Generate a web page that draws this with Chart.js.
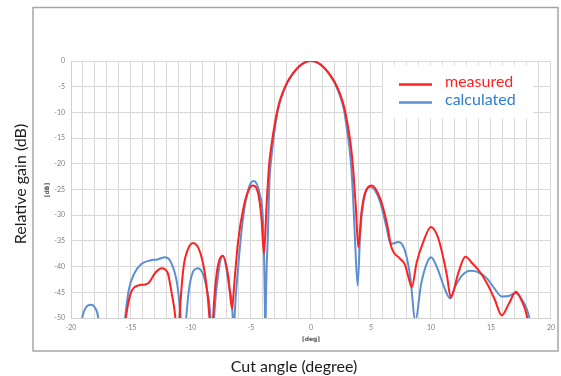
<!DOCTYPE html>
<html>
<head>
<meta charset="utf-8">
<script src="https://cdn.jsdelivr.net/npm/chart.js@4"></script>
<style>
  html, body { margin: 0; padding: 0; background: #fff; }
  #wrap { width: 561px; height: 376px; }
</style>
</head>
<body>
<div id="wrap"><canvas id="gainChart" width="561" height="376"></canvas></div>
<script>
// Valores (ângulo em graus, ganho em dB)
const measAngle = [-15.8, -15.43, -15.04, -14.44, -13.84, -13.54, -12.94, -12.44, -11.96, -11.6, -11.3, -11.08,
    -10.95, -10.64, -10.25, -9.8, -9.2, -8.76, -8.46, -8.3, -8.16, -7.86, -7.35, -6.88, -6.58, -6.37, -6.07,
    -5.62, -5.17, -4.87, -4.42, -4.13, -3.92, -3.68, -3.5, -3.3, -3.0, -2.7, -2.4, -2.0, -1.5, -1.0, -0.5, 0,
    0.5, 1.0, 1.5, 2.0, 2.45, 2.75, 3.05, 3.35, 3.55, 3.74, 3.95, 4.19, 4.48, 5.05, 5.74, 6.34, 6.7, 7.4, 7.83,
    8.13, 8.4, 8.8, 9.3, 10.0, 10.6, 11.0, 11.35, 11.65, 12.26, 12.86, 13.5, 14.1, 14.7, 15.3, 15.9, 16.5,
    17.08, 17.55, 18.03, 18.3];
const measGain = [-58, -50, -45.3, -43.7, -43.5, -43.2, -41.1, -40.3, -41.1, -45.3, -50, -58,
    -50, -40.5, -36.6, -35.4, -37.5, -42.7, -50, -58, -50, -41.4, -37.9, -42.1, -48.2, -42.7, -35,
    -28.5, -25, -24.2, -25.6, -30.5, -37.5, -27.2, -20.5, -16.5, -12, -8.6, -6.4, -4.2, -2.4, -1.05, -0.26, 0,
    -0.26, -1.05, -2.4, -4.2, -6.6, -8.8, -12.3, -17, -22, -28.5, -36.3, -29.8, -25.9, -24.2, -26.6, -31.7, -36.2, -38.4, -39.6,
    -42.1, -44, -39.3, -35.6, -32.3, -34.4, -38, -42, -46, -41.4, -38.1, -39.5, -41.1, -43.4, -46.3, -49.5, -47.2,
    -44.9, -46.6, -50, -55];

const calcAngle = [-19.6, -19.07, -18.75, -18.33, -17.95, -17.73, -17.4, -15.9, -15.49, -15.19, -14.74, -14.14,
    -13.4, -12.8, -12.14, -11.6, -11.15, -10.85, -10.62, -10.4, -10.1, -9.42, -8.76, -8.37, -8.22, -8.07,
    -7.86, -7.35, -6.82, -6.52, -6.45, -6.37, -6.07, -5.62, -5.17, -4.78, -4.27, -3.98, -3.83, -3.8, -3.77,
    -3.59, -3.45, -3.3, -3.05, -2.75, -2.45, -2.0, -1.5, -1.0, -0.5, 0, 0.5, 1.0, 1.5, 2.0, 2.45, 2.75, 3.0,
    3.3, 3.5, 3.65, 3.89, 4.1, 4.39, 4.99, 5.74, 6.3, 6.65, 7.3, 7.83, 8.28, 8.7, 9.18, 9.63, 10.0, 10.5,
    11.1, 11.6, 12.0, 12.6, 13.3, 13.96, 14.7, 15.3, 15.9, 16.5, 17.0, 17.55, 18.2, 18.5];
const calcGain = [-60, -50, -47.9, -47.4, -48.2, -50, -60, -60, -50, -44.6, -41.4, -39.5,
    -38.8, -38.6, -38.2, -39.5, -43.4, -50, -58, -50, -43.4, -40.3, -43.4, -50, -58, -50,
    -44, -37.9, -44, -50, -56, -50, -40.1, -29.8, -24.6, -23.35, -25.9, -32.4, -50, -60, -50,
    -33.7, -23, -18.8, -13.8, -9.5, -7, -4.4, -2.45, -1.1, -0.27, 0, -0.27, -1.1, -2.45, -4.4, -7, -9.5, -13.3,
    -19, -26, -33.7, -43.7, -33.7, -27.2, -24.5, -27.2, -32.4, -35.6, -35.2, -36.9, -42.1, -50.5, -43.4, -39.5, -38.2, -40.1,
    -44, -46.2, -44, -41.7, -40.8, -41.1, -42.4, -44.3, -45.8, -45.7, -45.2, -46.3, -50, -55];

const xTickValues = [-20, -15, -10, -5, 0, 5, 10, 15, 20];
const xTickLabels = ['-20', '-15', '-10', '-5', '0', '5', '10', '15', '20'];
const yTickValues = [0, -5, -10, -15, -20, -25, -30, -35, -40, -45, -50];
const yTickLabels = ['0', '-5', '-10', '-15', '-20', '-25', '-30', '-35', '-40', '-45', '-50'];

const seriesNames = ['measured', 'calculated'];

function toPoints(xs, ys) {
    return xs.map(function(x, i) { return { x: x, y: ys[i] }; });
}

// Moldura, títulos e legenda desenhados à mão
const decorPlugin = {
    id: 'decor',
    afterDatasetsDraw(chart) {
        const ctx = chart.ctx;
        ctx.save();
        // moldura externa
        ctx.strokeStyle = '#a6a6a6';
        ctx.lineWidth = 1.5;
        ctx.strokeRect(33, 7.5, 525, 343.5);

        // legenda
        ctx.fillStyle = '#ffffff';
        ctx.fillRect(383, 65, 150, 53);
        const rows = [84.5, 102.5];
        const textColors = ['#ff2020', '#2f7fcf'];
        chart.data.datasets.forEach(function(ds, i) {
            ctx.strokeStyle = ds.borderColor;
            ctx.lineWidth = 2.5;
            ctx.beginPath();
            ctx.moveTo(399, rows[i]);
            ctx.lineTo(432, rows[i]);
            ctx.stroke();
            ctx.fillStyle = textColors[i];
            ctx.font = '16px Lato';
            ctx.textAlign = 'left';
            ctx.textBaseline = 'middle';
            ctx.fillText(ds.label, 445, rows[i] - 3);
        });

        // títulos dos eixos
        ctx.fillStyle = '#1a1a1a';
        ctx.font = '16px Lato';
        ctx.textAlign = 'center';
        ctx.textBaseline = 'middle';
        ctx.fillText('Cut angle (degree)', 294, 367);
        ctx.save();
        ctx.translate(21, 184);
        ctx.rotate(-Math.PI / 2);
        ctx.fillText('Relative gain (dB)', 0, 0);
        ctx.restore();

        // unidades pequenas
        ctx.fillStyle = '#555';
        ctx.font = 'bold 6px "DejaVu Sans"';
        ctx.fillText('[deg]', 311, 339);
        ctx.save();
        ctx.translate(47, 190);
        ctx.rotate(-Math.PI / 2);
        ctx.fillText('[dB]', 0, 0);
        ctx.restore();
        ctx.restore();
    }
};

const gainConfig = {
    type: 'line',
    data: {
        datasets: [{
            label: seriesNames[0],
            data: toPoints(measAngle, measGain),
            borderColor: '#ff2020',
            borderWidth: 2,
            pointRadius: 0,
            fill: false,
            cubicInterpolationMode: 'monotone'
        }, {
            label: seriesNames[1],
            data: toPoints(calcAngle, calcGain),
            borderColor: '#5b8fd2',
            borderWidth: 2,
            pointRadius: 0,
            fill: false,
            cubicInterpolationMode: 'monotone'
        }]
    },
    options: {
        responsive: false,
        animation: false,
        devicePixelRatio: 1,
        layout: { padding: { top: 61, right: 10, left: 0, bottom: 0 } },
        scales: {
            x: {
                type: 'linear',
                min: -20,
                max: 20,
                afterFit: function(scale) { scale.height = 58; },
                grid: { color: '#d9d9d9', drawTicks: false },
                border: { color: '#d0d0d0' },
                ticks: {
                    stepSize: 1,
                    autoSkip: false,
                    maxRotation: 0,
                    padding: 6,
                    color: '#808080',
                    font: { size: 7, family: 'Lato' },
                    callback: function(value) {
                        const i = xTickValues.indexOf(value);
                        return i >= 0 ? xTickLabels[i] : '';
                    }
                }
            },
            y: {
                min: -50,
                max: 0,
                afterFit: function(scale) { scale.width = 71; },
                grid: { color: '#d9d9d9', drawTicks: false },
                border: { color: '#d0d0d0' },
                ticks: {
                    stepSize: 5,
                    padding: 6,
                    color: '#808080',
                    font: { size: 7, family: 'Lato' },
                    callback: function(value) {
                        const i = yTickValues.indexOf(value);
                        return i >= 0 ? yTickLabels[i] : '';
                    }
                }
            }
        },
        plugins: {
            legend: { display: false },
            tooltip: { enabled: false }
        }
    },
    plugins: [decorPlugin]
};

const gainChart = new Chart(document.getElementById('gainChart'), gainConfig);
</script>
</body>
</html>
